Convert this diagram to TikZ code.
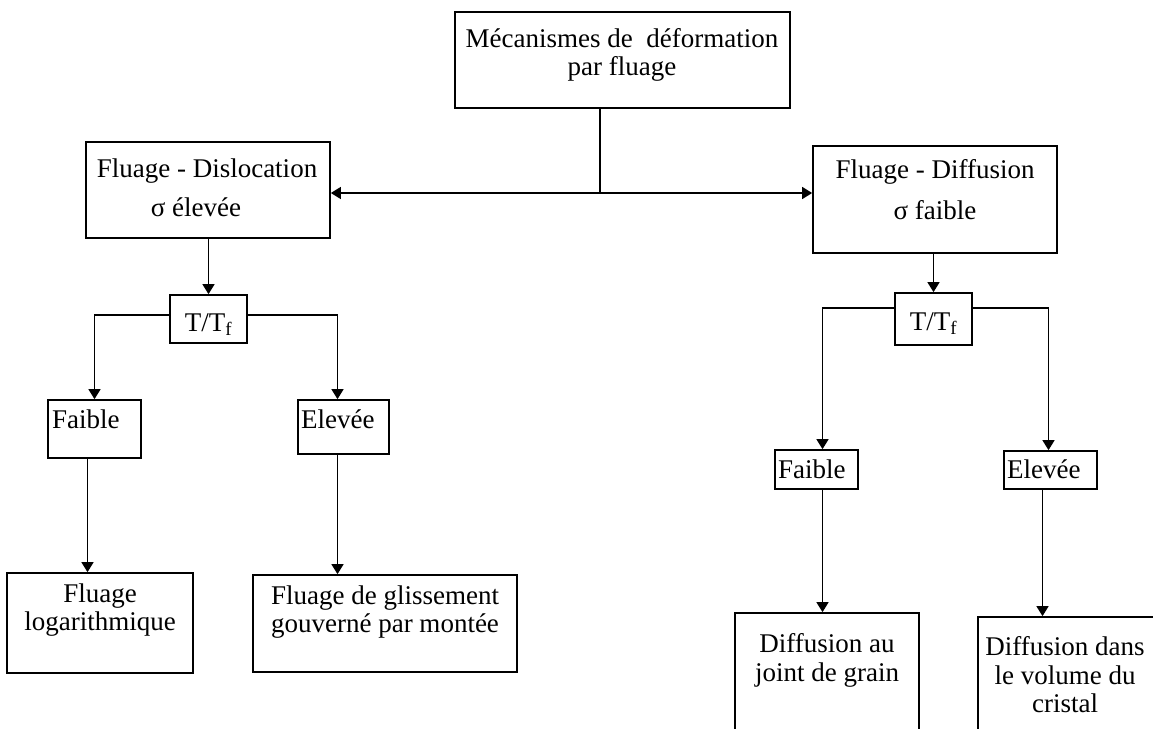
\documentclass[tikz,border=0pt]{standalone}
\usepackage{fontspec}
\setmainfont{Liberation Serif}
\usetikzlibrary{arrows.meta}
\begin{document}
\begin{tikzpicture}[x=1pt,y=-1pt,
  box/.style={draw, line width=1.7pt, rectangle, inner sep=0pt},
  txt/.style={anchor=base, inner sep=0pt, font=\fontsize{27}{30}\selectfont},
  link/.style={line width=1.4pt},
  tip/.tip={Triangle[width=12pt,length=10pt]},
  arr/.style={link, -tip},
  dbl/.style={link, tip-tip}]
\useasboundingbox (0,0) rectangle (1153,728);
\clip (0,0) rectangle (1153,728);
% boxes given by their left, top, right and bottom edges
\newcommand\boxat[5]{\node[box, minimum width={#4-#2}, minimum height={#5-#3}] (#1) at ({(#2+#4)/2},{(#3+#5)/2}) {};}
\boxat{top}{455}{12}{790}{108}
\boxat{fd}{86}{142}{330}{238}
\boxat{fdiff}{813}{146}{1057}{253}
\boxat{ttl}{170}{295}{247}{343}
\boxat{ttr}{895}{293}{972}{345}
\boxat{fbl}{48}{400}{141}{458}
\boxat{ell}{298}{400}{389}{454}
\boxat{fbr}{775}{450}{858}{489}
\boxat{elr}{1004}{451}{1097}{489}
\boxat{logb}{7}{573}{193}{673}
\boxat{glis}{253}{575}{517}{672}
\boxat{djg}{735}{613}{919}{760}
\boxat{dvc}{978}{617}{1160}{760}

% texts, one node per line
\node[txt] (t1a) at (622,47) {Mécanismes de \ déformation};
\node[txt] (t1b) at (622,75) {par fluage};
\node[txt] (t2a) at (207,177) {Fluage - Dislocation};
\node[txt] (t2b) at (196,216) {σ élevée};
\node[txt] (t3a) at (935,178) {Fluage - Diffusion};
\node[txt] (t3b) at (935,219) {σ faible};
\node[txt] (t4) at (208.5,331) {T/T\textsubscript{f}};
\node[txt] (t5) at (933.5,330) {T/T\textsubscript{f}};
\node[txt, anchor=base west] (t6) at (52,428) {Faible};
\node[txt, anchor=base west] (t7) at (301,428) {Elevée};
\node[txt, anchor=base west] (t8) at (778,478) {Faible};
\node[txt, anchor=base west] (t9) at (1007,478) {Elevée};
\node[txt] (t10a) at (100,602) {Fluage};
\node[txt] (t10b) at (100,630) {logarithmique};
\node[txt] (t11a) at (385,604) {Fluage de glissement};
\node[txt] (t11b) at (385,632) {gouverné par montée};
\node[txt] (t12a) at (827,652) {Diffusion au};
\node[txt] (t12b) at (827,681) {joint de grain};
\node[txt] (t13a) at (1065,655) {Diffusion dans};
\node[txt] (t13b) at (1065,684) {le volume du};
\node[txt] (t13c) at (1065,712) {cristal};

% connectors
\coordinate (hub) at (600,193);
\draw[link] (top.south -| hub) -- (hub);
\draw[dbl] (fd.east |- hub) -- (fdiff.west |- hub);
\draw[arr] (fd.south -| ttl) -- (ttl.north);
\draw[arr] ([yshift=4]ttl.west) -| (fbl.north);
\draw[arr] ([yshift=4]ttl.east) -| ([xshift=-6]ell.north);
\draw[arr] ([xshift=-7]fbl.south) -- ([xshift=-7]fbl.south |- logb.north);
\draw[arr] ([xshift=-6]ell.south) -- ([xshift=-6]ell.south |- glis.north);
\draw[arr] (fdiff.south -| ttr) -- (ttr.north);
\draw[arr] ([yshift=11]ttr.west) -| ([xshift=6]fbr.north);
\draw[arr] ([yshift=11]ttr.east) -| ([xshift=-2]elr.north);
\draw[arr] ([xshift=6]fbr.south) -- ([xshift=6]fbr.south |- djg.north);
\draw[arr] ([xshift=-8]elr.south) -- ([xshift=-8]elr.south |- dvc.north);
\end{tikzpicture}
\end{document}
